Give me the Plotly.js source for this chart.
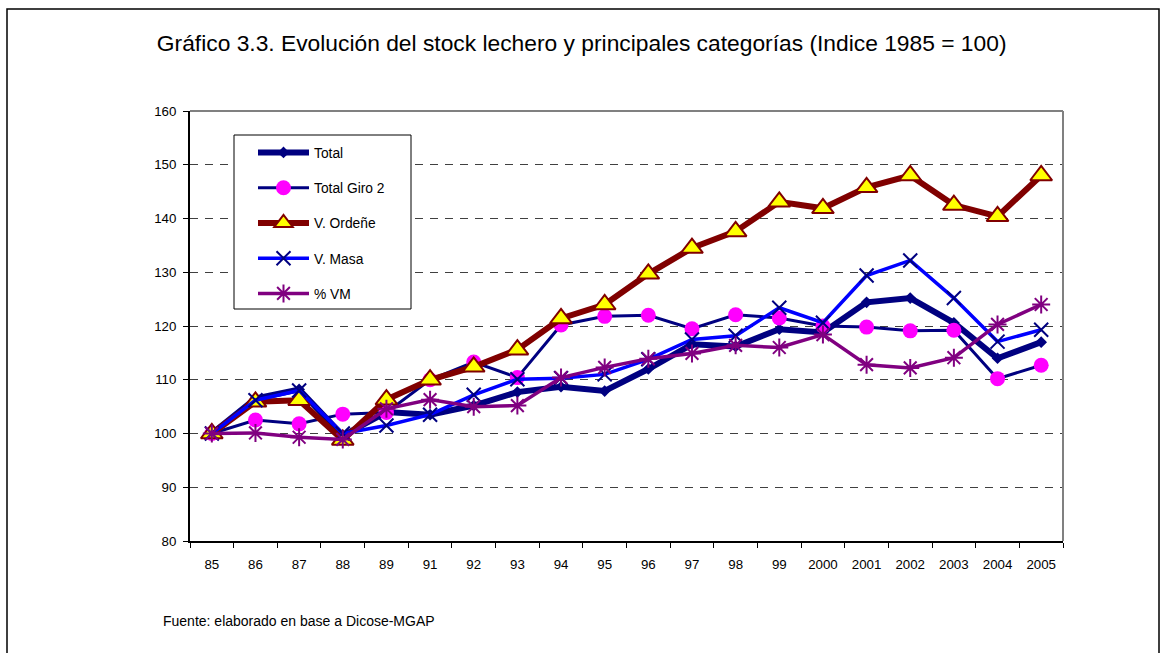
<!DOCTYPE html>
<html>
<head>
<meta charset="utf-8">
<script src="https://cdn.plot.ly/plotly-3.0.1.min.js"></script>
<style>html,body{margin:0;padding:0;background:#fff;}#chart{width:1161px;height:653px;}</style>
</head>
<body>
<div id="chart"></div>
<script>
const categories = ['85','86','87','88','89','91','92','93','94','95','96','97','98','99','2000','2001','2002','2003','2004','2005'];
const total      = [100, 106.5, 108.2, 99.6, 104.0, 103.5, 105.2, 107.7, 108.7, 107.9, 112.0, 116.6, 116.2, 119.4, 118.8, 124.4, 125.2, 120.6, 114.0, 117.0];
const totalGiro2 = [100, 102.5, 101.8, 103.6, 103.9, 110.0, 113.3, 110.4, 120.2, 121.8, 122.0, 119.5, 122.1, 121.5, 120.0, 119.8, 119.1, 119.2, 110.2, 112.7];
const vOrdene    = [100, 105.9, 106.2, 98.8, 106.3, 110.0, 112.4, 115.6, 121.4, 124.0, 129.7, 134.5, 137.6, 143.1, 141.9, 145.8, 148.0, 142.5, 140.4, 148.0];
const vMasa      = [100, 106.2, 108.0, 100.0, 101.5, 103.5, 107.2, 110.1, 110.3, 111.0, 113.8, 117.5, 118.2, 123.4, 120.6, 129.4, 132.2, 125.2, 117.1, 119.3];
const pctVM      = [100, 100.1, 99.3, 98.9, 104.6, 106.3, 105.0, 105.2, 110.4, 112.3, 113.9, 114.9, 116.4, 116.0, 118.4, 112.8, 112.2, 114.1, 120.3, 124.0];

const font = 'Arial, "Liberation Sans", sans-serif';

const traces = [
  {name:'Total', y: total, legendgroup:'a',
   line:{color:'#000080', width:6}, marker:{symbol:'diamond', size:9, color:'#000080'}},
  {name:'Total Giro 2', y: totalGiro2, legendgroup:'b',
   line:{color:'#000080', width:3}, marker:{symbol:'circle', size:15, color:'#FF00FF'}},
  {name:'V. Ordeñe', y: vOrdene, legendgroup:'c',
   line:{color:'#800000', width:6}, marker:{symbol:'triangle-up', size:19, color:'#FFFF00', line:{color:'#800000', width:2}}},
  {name:'V. Masa', y: vMasa, legendgroup:'d',
   line:{color:'#0000FF', width:3.5}, marker:{symbol:'x-thin-open', size:14, color:'#000080', line:{color:'#000080', width:2}}},
  {name:'% VM', y: pctVM, legendgroup:'e',
   line:{color:'#800080', width:3.5}, marker:{symbol:'asterisk-open', size:15, color:'#800080', line:{color:'#800080', width:2}}}
].map(t => Object.assign({type:'scatter', mode:'lines+markers', x: categories}, t));

const layout = {
  width:1161, height:653,
  margin:{l:190, r:98, t:111, b:112},
  paper_bgcolor:'#fff', plot_bgcolor:'#fff',
  font:{family:font, color:'#000', size:13.3},
  title:{text:'Gráfico 3.3. Evolución del stock lechero y principales categorías (Indice 1985 = 100)',
         font:{family:font, size:22.8, color:'#000'}, x:0.501, xref:'container', xanchor:'center',
         y:1-43/653, yref:'container', yanchor:'middle'},
  xaxis:{type:'category', categoryorder:'array', categoryarray:categories,
         showline:true, linecolor:'#000', linewidth:2, ticks:'outside', tickson:'boundaries',
         ticklen:5, tickcolor:'#000', showgrid:false, zeroline:false,
         tickfont:{size:13.3, family:font}, ticklabelstandoff:10, range:[-0.5, 19.5]},
  yaxis:{range:[80,160], dtick:10, tick0:80, showline:true, linecolor:'#000', linewidth:2,
         ticks:'outside', ticklen:5, tickcolor:'#000', showgrid:true, gridcolor:'#404040',
         gridwidth:1, griddash:'8px,7px', zeroline:false, tickfont:{size:13.3, family:font},
         ticklabelstandoff:4},
  showlegend:true,
  legend:{x:(253-190)/873, y:(541-137)/430, xanchor:'left', yanchor:'top',
          bgcolor:'rgba(0,0,0,0)', borderwidth:0, font:{size:13.8, family:font},
          tracegroupgap:14.3, itemwidth:51, traceorder:'grouped'},
  shapes:[
    {type:'line', xref:'paper', yref:'paper', x0:0, x1:1, y0:1, y1:1, line:{color:'#808080', width:2}},
    {type:'line', xref:'paper', yref:'paper', x0:1, x1:1, y0:0, y1:1, line:{color:'#808080', width:2}},
    {type:'rect', xref:'paper', yref:'paper', layer:'above',
     x0:(234-190)/873, x1:(411-190)/873, y0:(541-309)/430, y1:(541-135)/430,
     line:{color:'#000', width:1}, fillcolor:'#fff'},
    {type:'rect', xref:'paper', yref:'paper', x0:(7-190)/873, x1:(1159-190)/873,
     y0:-0.4, y1:(541-9)/430, line:{color:'#000', width:1.5}, fillcolor:'rgba(0,0,0,0)'}
  ],
  annotations:[
    {text:'Fuente: elaborado en base a Dicose-MGAP', xref:'paper', yref:'paper',
     x:(161-190)/873, y:(541-621)/430, xanchor:'left', yanchor:'middle', showarrow:false,
     font:{size:14, family:font, color:'#000'}}
  ]
};

Plotly.newPlot('chart', traces, layout, {displayModeBar:false, staticPlot:true});
</script>
</body>
</html>
